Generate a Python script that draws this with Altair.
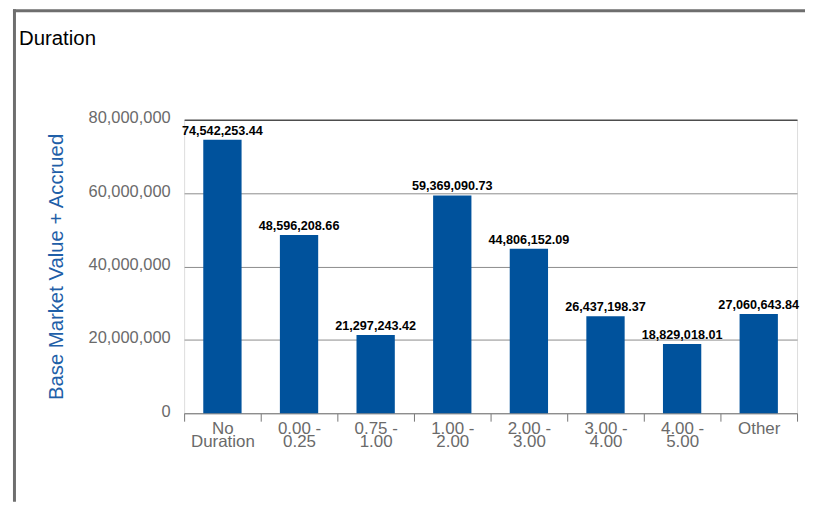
import altair as alt
import pandas as pd

categories = ["No\nDuration", "0.00 -\n0.25", "0.75 -\n1.00", "1.00 -\n2.00",
              "2.00 -\n3.00", "3.00 -\n4.00", "4.00 -\n5.00", "Other"]
values = [74542253.44, 48596208.66, 21297243.42, 59369090.73,
          44806152.09, 26437198.37, 18829018.01, 27060643.84]
y_ticks = [0, 20000000, 40000000, 60000000, 80000000]

df = pd.DataFrame({"cat": categories, "val": values})
dummy = pd.DataFrame({"a": [0]})

W, H = 616, 295

x_enc = alt.X("cat:N", sort=categories,
              scale=alt.Scale(paddingInner=0, paddingOuter=0),
              axis=alt.Axis(title=None, labelAngle=0, labelFontSize=17,
                            labelFont="Liberation Sans", labelColor="#6a6a6a",
                            labelLineHeight=13.5, labelPadding=-1, labelBaseline="top",
                            labelExpr="split(datum.label, '\\n')",
                            tickSize=8, tickColor="#777777", domainColor="#8a8a8a",
                            tickBand="extent", grid=False, gridOpacity=0,
                            gridColor="transparent"))
y_scale = alt.Scale(domain=[0, 80000000], nice=False)
y_enc = alt.Y("val:Q", scale=y_scale,
              axis=alt.Axis(values=y_ticks, format=",.0f", labelFontSize=16.5,
                            labelFont="Liberation Sans", labelColor="#6a6a6a",
                            labelPadding=14, labelBaseline="middle", labelOffset=-2,
                            ticks=False, domain=False,
                            gridColor={"condition": {"test": "datum.value === 80000000", "value": "#000000"},
                                       "value": "#8c8c8c"},
                            title="Base Market Value + Accrued", titleFontSize=20.4,
                            titleFont="Liberation Sans", titleFontWeight="normal",
                            titleColor="#1f5fa8", titleX=-118, titleY=147.5,
                            titleAngle=-90, titleBaseline="bottom", titleAlign="center"))

bars = alt.Chart(df).mark_bar(color="#00529c", width=alt.RelativeBandSize(0.5)).encode(x=x_enc, y=y_enc)
labels = alt.Chart(df).mark_text(dy=-5, baseline="alphabetic", fontSize=12.7,
                                 fontWeight="bold", font="Liberation Sans",
                                 color="#000000").encode(
    x=alt.X("cat:N", sort=categories), y="val:Q",
    text=alt.Text("val:Q", format=",.2f"))

title = alt.Chart(dummy).mark_text(text="Duration", align="left", baseline="alphabetic",
                                   fontSize=20.5, font="Liberation Sans", color="#000000").encode(
    x=alt.value(-166), y=alt.value(-75))

left_border = alt.Chart(dummy).mark_rule(color="#6e6e6e", strokeWidth=3).encode(
    x=alt.value(-170.5), y=alt.value(-111), y2=alt.value(H + 89))
top_border = alt.Chart(dummy).mark_rule(color="#6e6e6e", strokeWidth=3).encode(
    x=alt.value(-172), x2=alt.value(W + 12), y=alt.value(-109.5))

chart = alt.layer(bars, labels, title, left_border, top_border).properties(
    width=W, height=H,
    autosize=alt.AutoSizeParams(type="none"),
    padding={"left": 177, "top": 111, "right": 8, "bottom": 89},
).configure_view(stroke="transparent", strokeWidth=0).configure_axisX(grid=False).configure(background="white")

chart.save("out.html", embed_options={"renderer": "svg", "actions": False})
